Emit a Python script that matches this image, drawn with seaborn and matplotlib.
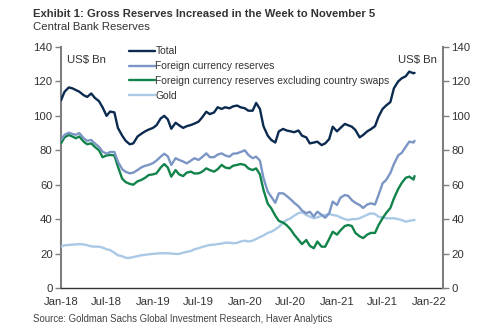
import numpy as np
import pandas as pd
import matplotlib
matplotlib.use("Agg")
import matplotlib.pyplot as plt
import matplotlib.dates as mdates
import seaborn as sns

# ---- data (US$ Bn), semi-monthly readings Jan-2018 .. 5-Nov-2021 ----
dates = list(pd.date_range("2018-01-01", "2021-11-01", freq="SMS")) + [pd.Timestamp("2021-11-05")]

total = [109, 114, 116.5, 116, 115, 114, 112, 111, 113, 110.5, 108.5, 105, 100, 102.5, 102, 93,
         88.5, 85.5, 83.5, 84, 88, 89.5, 91, 92, 93, 94.5, 98.5, 100, 98, 92.5, 96, 94.5,
         93, 94, 94.7, 95.5, 96.6, 99, 102.4, 101, 102, 105, 104, 105, 104.4, 105.5, 106, 105,
         104.4, 103, 103, 107.5, 104, 94, 88.5, 86, 84.5, 91, 92.4, 91.5, 91, 90.5, 91.5, 88.5,
         87.5, 84, 84.5, 85, 83, 84, 86.5, 93.7, 91, 93, 95.3, 94.5, 93.7, 91.8, 87.5, 88.9,
         91, 92.2, 94, 99.5, 104, 106, 108, 116, 120, 121.8, 123, 125.7, 124.7, 125]

fx = [86, 89, 90.2, 89.5, 89, 90, 87, 85.5, 86, 84, 82, 79.2, 78, 79, 79, 73.4,
      69, 67.5, 66.6, 67, 68.5, 70, 71, 71.5, 72.5, 74, 76.3, 78, 76.5, 71.5, 75.4, 74.4,
      73.5, 72.4, 74, 75.4, 74.4, 76, 78.2, 76, 76, 77.5, 78.2, 77, 76.3, 78, 78.2, 79,
      80, 77.3, 75.4, 76.3, 74, 64, 56, 53, 49.5, 55, 55, 53.5, 51.5, 49.5, 47.5, 45,
      43.4, 44.3, 41.5, 44.3, 42.5, 40.8, 43.4, 50.2, 48.2, 52.5, 54, 53.5, 51, 49.5, 48.2, 46.5,
      48.5, 49.2, 48.5, 54, 60.8, 62.7, 66.8, 72, 77, 78.5, 82, 85, 84.5, 85.5]

fx_ex_swaps = [84, 87.5, 88.9, 88, 87, 88, 85, 83.5, 84, 82, 80, 76, 77, 77.3, 77, 70.5,
               63.5, 61.5, 60.5, 60, 62, 62.7, 64, 65.6, 66, 66.6, 70, 72, 70, 64.7, 68.5, 66,
               65, 67, 67.6, 66.5, 66.6, 67.5, 69.5, 68.5, 67.6, 69, 71.5, 70, 69.5, 71, 71.5, 72,
               71.5, 69.5, 68.5, 69.5, 66, 57, 49, 46.3, 42, 39, 38, 36.5, 34, 31, 28, 25.5,
               27.9, 24.5, 23.1, 27, 24, 24, 28.5, 32.7, 31, 33.5, 36, 36.6, 36, 32, 30, 29,
               31, 32, 32, 36.5, 40.5, 43.5, 46.5, 52, 57.5, 61, 64, 64.7, 63, 65]

gold = [24.1, 24.8, 25, 25.2, 25.3, 25.5, 25.3, 24.8, 24.2, 24, 24, 23.5, 22.5, 22, 20.5, 19,
        18.5, 17.5, 17.5, 18, 18.5, 19, 19.2, 19.6, 19.8, 20, 20.2, 20.2, 20.2, 20, 19.8, 19.8,
        20.5, 21, 21.5, 22.5, 23.1, 23.8, 24.5, 25, 25.2, 25.5, 25.8, 26.3, 26.3, 26, 26.2, 27,
        27.5, 27, 27.5, 28.5, 29.5, 30.5, 32, 32.7, 34, 35.5, 38, 39.5, 40.5, 42, 43.5, 44,
        42.4, 41.5, 40.5, 41, 42, 42.4, 43, 42.4, 42, 41, 40, 39.5, 40, 40, 40.5, 41.5,
        42.5, 43.4, 43, 41.4, 41, 40.5, 40.5, 40.5, 40, 39.5, 38.5, 39, 39.5, 39.5]

series_names = ["Total", "Foreign currency reserves",
                "Foreign currency reserves excluding country swaps", "Gold"]
series_vals = [total, fx, fx_ex_swaps, gold]
colors = ["#0b2a4f", "#7b96c4", "#12834a", "#a9c9e6"]

tick_dates = pd.date_range("2018-01-01", "2022-01-01", freq="6MS")
tick_labels = ["Jan-18", "Jul-18", "Jan-19", "Jul-19", "Jan-20", "Jul-20", "Jan-21", "Jul-21", "Jan-22"]
y_ticks = [0, 20, 40, 60, 80, 100, 120, 140]

# ---- figure ----
sns.set_style("white")
plt.rcParams["font.family"] = ["Liberation Sans", "DejaVu Sans"]

fig = plt.figure(figsize=(5, 3.35), dpi=100)
L, R, T, B = 61, 443, 47, 288
ax = fig.add_axes([L / 500, 1 - B / 335, (R - L) / 500, (B - T) / 335])

df = pd.concat([pd.DataFrame({"date": dates, "value": v, "series": n})
                for n, v in zip(series_names, series_vals)])
# draw back-to-front: gold, fx, fx ex swaps, total
order = [3, 1, 2, 0]
for i in order:
    sub = df[df["series"] == series_names[i]]
    sns.lineplot(data=sub, x="date", y="value", ax=ax, color=colors[i],
                 linewidth=1.7, label=series_names[i], zorder=3 + (3 - i))

ax.set_xlim(pd.Timestamp("2018-01-01"), pd.Timestamp("2022-02-26"))
ax.set_ylim(0, 140)
ax.set_yticks(y_ticks)
ax.set_xticks(tick_dates)
ax.set_xticklabels(tick_labels)
ax.set_xlabel("")
ax.set_ylabel("")

ax2 = ax.twinx()
ax2.set_ylim(0, 140)
ax2.set_yticks(y_ticks)

for a in (ax, ax2):
    for s in a.spines.values():
        s.set_visible(False)
ax.spines["left"].set_visible(True)
ax.spines["left"].set_color("#7f7f7f")
ax.spines["left"].set_linewidth(1.5)
ax.spines["bottom"].set_visible(True)
ax.spines["bottom"].set_color("#333333")
ax.spines["bottom"].set_linewidth(1.0)
ax2.spines["right"].set_visible(True)
ax2.spines["right"].set_color("#7f7f7f")
ax2.spines["right"].set_linewidth(1.5)

fs = 8.2
ax.tick_params(axis="y", left=True, direction="out", length=4, width=1, color="#7f7f7f",
               labelsize=fs, labelcolor="#333333", pad=2)
ax.tick_params(axis="x", bottom=False, labelsize=fs, labelcolor="#333333", pad=3)
ax2.tick_params(axis="y", right=True, direction="out", length=4, width=1, color="#7f7f7f",
                labelsize=fs, labelcolor="#333333", pad=2)

handles, labels = ax.get_legend_handles_labels()
hmap = dict(zip(labels, handles))
leg = ax.legend([hmap[n] for n in series_names], series_names, loc="upper left",
                bbox_to_anchor=((125 - L) / (R - L), 1.02), frameon=False, fontsize=7.4,
                handlelength=2.5, handletextpad=0.05, labelspacing=0.47, borderaxespad=0)
for t in leg.get_texts():
    t.set_color("#333333")

ax.text(0.016, 0.965, "US$ Bn", transform=ax.transAxes, fontsize=fs, color="#333333",
        va="top", ha="left")
ax.text(0.985, 0.965, "US$ Bn", transform=ax.transAxes, fontsize=fs, color="#333333",
        va="top", ha="right")

fig.text(33 / 500, 1 - 14 / 335, "Exhibit 1: Gross Reserves Increased in the Week to November 5",
         fontsize=8.15, fontweight="bold", color="#333333", va="center", ha="left")
fig.text(33 / 500, 1 - 27.5 / 335, "Central Bank Reserves", fontsize=8.2, color="#333333",
         va="center", ha="left")
fig.text(33 / 500, 1 - 319 / 335, "Source: Goldman Sachs Global Investment Research, Haver Analytics",
         fontsize=6.95, color="#444444", va="center", ha="left")

fig.savefig("out.png", dpi=100)
